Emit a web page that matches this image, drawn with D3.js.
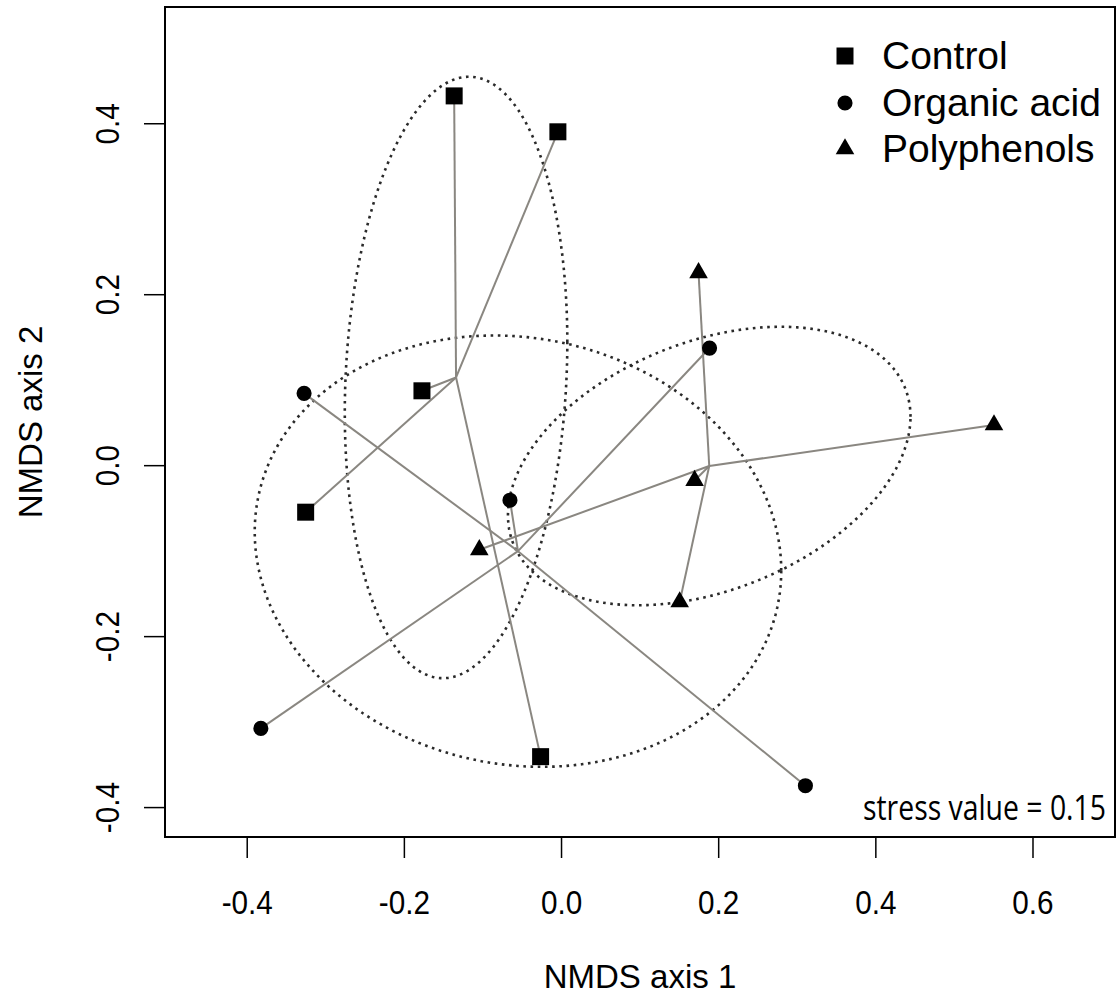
<!DOCTYPE html>
<html>
<head>
<meta charset="utf-8">
<script src="https://cdn.jsdelivr.net/npm/d3@7"></script>
<style>
  body { margin: 0; background: #fff; }
  text { font-family: "Liberation Sans", Arial, sans-serif; fill: #000; }
</style>
</head>
<body>
<svg id="plot" width="1120" height="998"></svg>
<script>
// NMDS site scores, one array per axis, plus group of each site
const groups = ['Control', 'Organic acid', 'Polyphenols'];
const siteGroup = ['Control', 'Control', 'Control', 'Control', 'Control',
  'Organic acid', 'Organic acid', 'Organic acid', 'Organic acid', 'Organic acid',
  'Polyphenols', 'Polyphenols', 'Polyphenols', 'Polyphenols', 'Polyphenols'];
const nmds1 = [-0.136, -0.004, -0.177, -0.325, -0.026,
  -0.327, 0.189, -0.065, -0.382, 0.311,
  0.175, 0.551, 0.170, 0.151, -0.104];
const nmds2 = [0.432, 0.390, 0.087, -0.055, -0.341,
  0.084, 0.137, -0.041, -0.308, -0.375,
  0.225, 0.047, -0.018, -0.160, -0.099];
const xTicks = [-0.4, -0.2, 0.0, 0.2, 0.4, 0.6];
const yTicks = [-0.4, -0.2, 0.0, 0.2, 0.4];
const stressValue = 0.15;

const svg = d3.select('#plot');
const margin = {top: 7, right: 5, bottom: 161, left: 165};
const width = 1120 - margin.left - margin.right;
const height = 998 - margin.top - margin.bottom;

const x = d3.scaleLinear().domain([-0.504, 0.705]).range([margin.left, margin.left + width]);
const y = d3.scaleLinear().domain([-0.435, 0.536]).range([margin.top + height, margin.top]);

const symbolType = d3.scaleOrdinal().domain(groups)
  .range([d3.symbolSquare, d3.symbolCircle, d3.symbolTriangle]);
const symbolSize = d3.scaleOrdinal().domain(groups).range([289, 180, 150]);

const sites = nmds1.map((v, i) => ({x: v, y: nmds2[i], group: siteGroup[i]}));

// group centroids and covariance -> spider + ellipse
const ellipseScale = 1.095;
const stats = groups.map(g => {
  const pts = sites.filter(d => d.group === g);
  const mx = d3.mean(pts, d => d.x), my = d3.mean(pts, d => d.y);
  const n = pts.length;
  const sxx = d3.sum(pts, d => (d.x - mx) ** 2) / (n - 1);
  const syy = d3.sum(pts, d => (d.y - my) ** 2) / (n - 1);
  const sxy = d3.sum(pts, d => (d.x - mx) * (d.y - my)) / (n - 1);
  return {group: g, pts, mx, my, sxx, syy, sxy};
});

// ellipses (dotted)
const ellipseLine = d3.line().x(d => x(d[0])).y(d => y(d[1]));
stats.forEach(s => {
  // cholesky of covariance
  const a = Math.sqrt(s.sxx);
  const b = s.sxy / a;
  const c = Math.sqrt(s.syy - b * b);
  const ring = d3.range(0, 361, 2).map(deg => {
    const t = deg * Math.PI / 180;
    const u = Math.cos(t), v = Math.sin(t);
    return [s.mx + ellipseScale * a * u, s.my + ellipseScale * (b * u + c * v)];
  });
  svg.append('path')
    .attr('d', ellipseLine(ring))
    .style('fill', 'none')
    .style('stroke', '#2a2a2a')
    .style('stroke-width', 2.6)
    .style('stroke-dasharray', '2.6 4.6');
});

// spider lines from centroid to each site
stats.forEach(s => {
  svg.selectAll(null)
    .data(s.pts)
    .enter().append('line')
    .attr('x1', x(s.mx)).attr('y1', y(s.my))
    .attr('x2', d => x(d.x)).attr('y2', d => y(d.y))
    .style('stroke', '#8a8781')
    .style('stroke-width', 2);
});

// points
svg.selectAll('.site')
  .data(sites)
  .enter().append('path')
  .attr('class', 'site')
  .attr('transform', d => `translate(${x(d.x)},${y(d.y)})`)
  .attr('d', d => d3.symbol().type(symbolType(d.group)).size(symbolSize(d.group))())
  .style('fill', '#000');

// plot box
svg.append('rect')
  .attr('x', margin.left).attr('y', margin.top)
  .attr('width', width).attr('height', height)
  .style('fill', 'none')
  .style('stroke', '#000')
  .style('stroke-width', 2);

// axes
const xAxis = d3.axisBottom(x).tickValues(xTicks).tickSize(21).tickPadding(0);
const gx = svg.append('g').attr('transform', `translate(0,${margin.top + height})`).call(xAxis);
gx.select('.domain').remove();
gx.selectAll('.tick line').style('stroke', '#000').style('stroke-width', 1.5);
gx.selectAll('.tick text').remove();
gx.selectAll('.tick').append('text')
  .attr('transform', 'translate(0,77) scale(0.9,1)')
  .attr('text-anchor', 'middle')
  .style('font-size', '33px')
  .text(d => d3.format('.1f')(d).replace('−', '-'));

const yAxis = d3.axisLeft(y).tickValues(yTicks).tickSize(21).tickPadding(0);
const gy = svg.append('g').attr('transform', `translate(${margin.left},0)`).call(yAxis);
gy.select('.domain').remove();
gy.selectAll('.tick line').style('stroke', '#000').style('stroke-width', 1.5);
gy.selectAll('.tick text').remove();
gy.selectAll('.tick').append('text')
  .attr('transform', 'translate(-46,0) rotate(-90) scale(0.9,1)')
  .attr('text-anchor', 'middle')
  .style('font-size', '33px')
  .text(d => d3.format('.1f')(d).replace('−', '-'));

// axis titles
svg.append('text')
  .attr('x', margin.left + width / 2).attr('y', 988)
  .attr('text-anchor', 'middle')
  .style('font-size', '33px')
  .text('NMDS axis 1');
svg.append('text')
  .attr('transform', `translate(42,${margin.top + height / 2}) rotate(-90)`)
  .attr('text-anchor', 'middle')
  .style('font-size', '33px')
  .text('NMDS axis 2');

// legend
const legend = svg.append('g').attr('transform', 'translate(845,0)');
const legendY = [56, 103, 149];
groups.forEach((g, i) => {
  legend.append('path')
    .attr('transform', `translate(0,${legendY[i]})`)
    .attr('d', d3.symbol().type(symbolType(g)).size(symbolSize(g))())
    .style('fill', '#000');
  legend.append('text')
    .attr('x', 37).attr('y', legendY[i] + 13)
    .style('font-size', '39px')
    .text(g);
});

// stress annotation
svg.append('text')
  .attr('x', 1106).attr('y', 820)
  .attr('text-anchor', 'end')
  .attr('textLength', 243)
  .attr('lengthAdjust', 'spacingAndGlyphs')
  .style('font-family', '"Open Sans", sans-serif')
  .style('font-size', '35px')
  .text(`stress value = ${stressValue}`);
</script>
</body>
</html>
